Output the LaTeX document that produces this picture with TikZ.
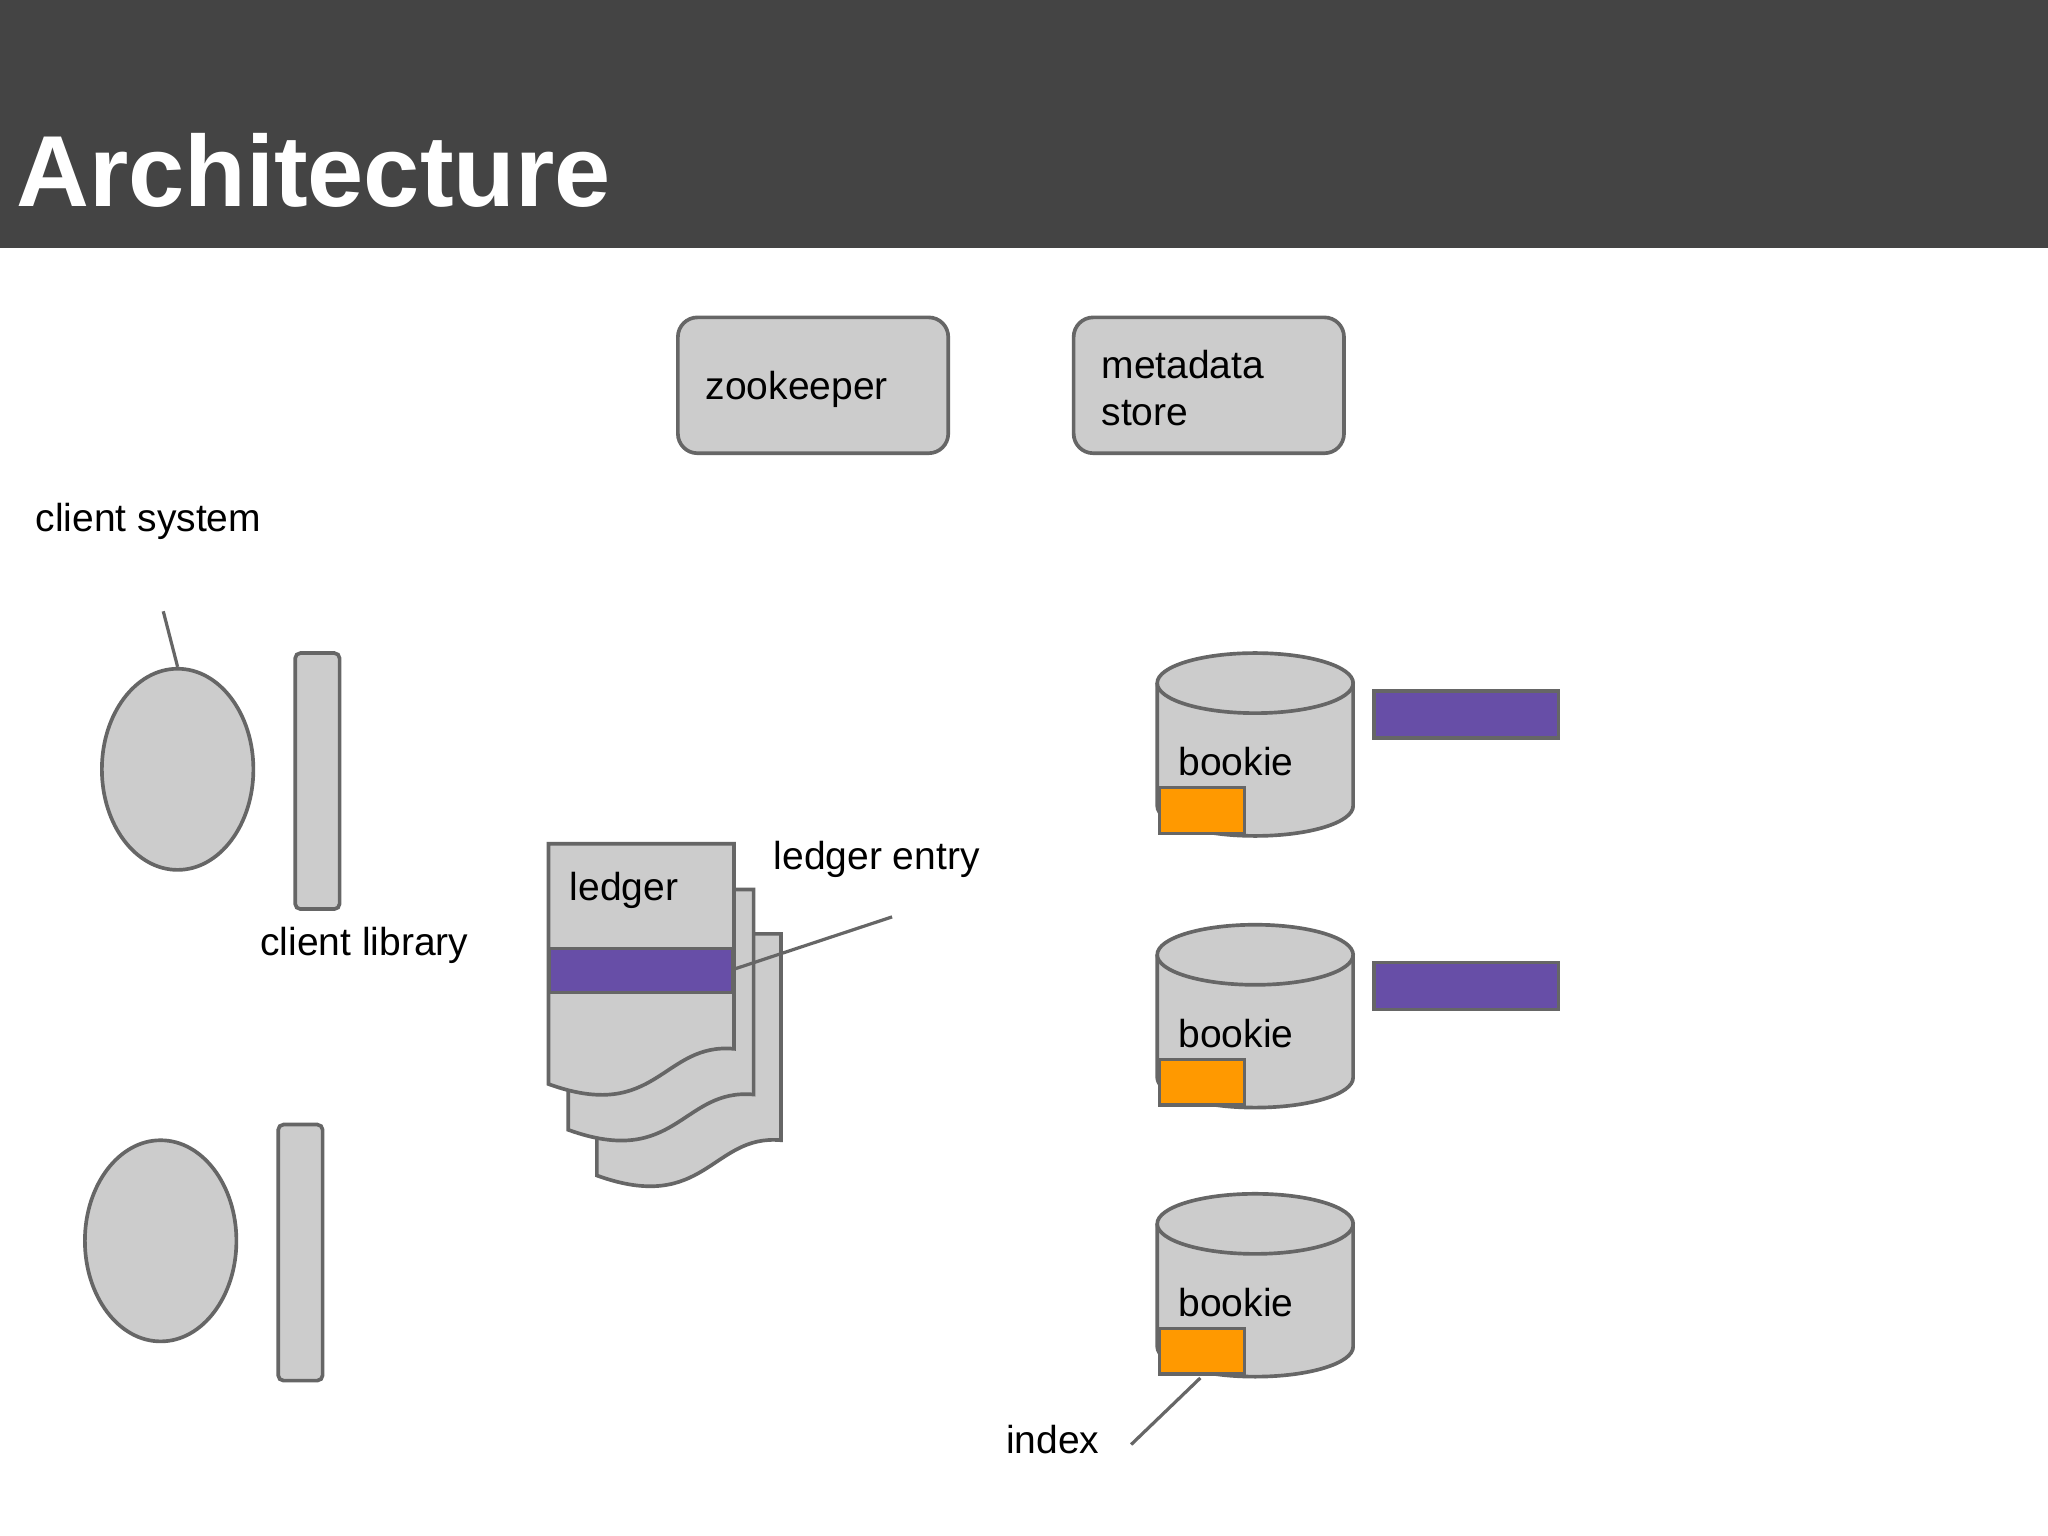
\documentclass[tikz,border=0pt]{standalone}
\usepackage{fontspec}
\setmainfont{Liberation Sans}
\usetikzlibrary{shapes.geometric}
\definecolor{hdr}{HTML}{444444}
\definecolor{gr}{HTML}{CCCCCC}
\definecolor{ln}{HTML}{666666}
\definecolor{pur}{HTML}{674EA7}
\definecolor{org}{HTML}{FF9900}
\begin{document}
\begin{tikzpicture}[x=0.02cm,y=-0.02cm,
  sh/.style={fill=gr,draw=ln,line width=1.6pt},
  box/.style={sh,rounded corners=0.3cm},
  lbl/.style={anchor=west,inner sep=0,font=\fontsize{17pt}{20.5pt}\selectfont,align=left},
  lead/.style={draw=ln,line width=1.4pt},
  prp/.style={fill=pur,draw=ln,line width=1.4pt},
  orn/.style={fill=org,draw=ln,line width=1.4pt}]
\useasboundingbox (0,0) rectangle (1568,1176);
\fill[white] (0,0) rectangle (1568,1176);
\fill[hdr] (0,0) rectangle (190*0+1568,190);
\node[anchor=base west,inner sep=0,text=white,font=\fontsize{44pt}{50pt}\selectfont\bfseries] (title) at (12,158) {Architecture};
% boxes
\draw[box] (519,243) rectangle (726,347);
\node[lbl] (zk) at (540,298) {zookeeper};
\draw[box] (822,243) rectangle (1029,347);
\node[lbl] (ms) at (843,297) {metadata\\store};
% clients
\node[lbl] (cs) at (27,399) {client system};
\coordinate (csend) at (125,468);
\node[sh,ellipse,minimum width=116*0.02cm,minimum height=154*0.02cm] (c1) at (136,589) {};
\draw[lead] (csend) -- (c1.north);
\draw[sh,rounded corners=0.08cm] (226,500) rectangle (260,696);
\node[lbl] (cl) at (199,724) {client library};
\node[sh,ellipse,minimum width=116*0.02cm,minimum height=154*0.02cm] (c2) at (123,950) {};
\draw[sh,rounded corners=0.08cm] (213,861) rectangle (247,1057);
% ledger docs
\draw[sh] (457,715) -- (598,715) -- (598,873) .. controls (545,868) and (540,930) .. (457,900) -- cycle;
\draw[sh] (435,681) -- (577,681) -- (577,838) .. controls (522,833) and (518,895) .. (435,865) -- cycle;
\draw[sh] (420,646) -- (562,646) -- (562,803) .. controls (507,798) and (503,860) .. (420,830) -- cycle;
\draw[prp] (421,726) rectangle (561,760);
\node[lbl] (lg) at (436,682) {ledger};
\node[lbl] (le) at (592,658) {ledger entry};
\coordinate (leend) at (683,702);
\coordinate (lestart) at (562,742);
\draw[lead] (lestart) -- (leend);
% bookies
\foreach \t/\n in {523/1,731/2,937/3}{
  \draw[sh] (886,\t) -- (886,\t+94) arc[start angle=180,end angle=360,x radius=75,y radius=-23] -- (1036,\t);
  \draw[sh] (961,\t) ellipse[x radius=75,y radius=-23];
  \node[lbl] (b\n) at (902,\t+60) {bookie};
  \draw[orn] (888,\t+80) rectangle (953,\t+115);
}
\coordinate (ix) at (919,1055);
\draw[prp] (1052,529) rectangle (1193,565);
\draw[prp] (1052,737) rectangle (1193,773);
\node[lbl] (idx) at (770,1102) {index};
\coordinate (ixend) at (866,1106);
\draw[lead] (ix) -- (ixend);
\end{tikzpicture}
\end{document}
